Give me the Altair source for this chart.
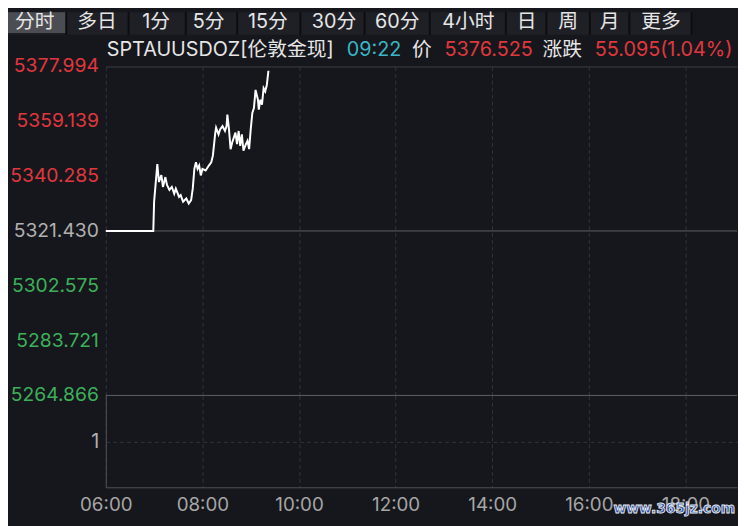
import altair as alt
import pandas as pd

# SPTAUUSDOZ 伦敦金现, intraday (分时) line
times = ["06:00", "06:59", "07:00", "07:04", "07:06", "07:09", "07:11", "07:14", "07:16",
         "07:19", "07:22", "07:25", "07:27", "07:31", "07:33", "07:36", "07:40", "07:43",
         "07:46", "07:48", "07:50", "07:52", "07:54", "07:56", "07:58", "08:00", "08:04",
         "08:08", "08:11", "08:13", "08:16", "08:17", "08:20", "08:22", "08:25", "08:28",
         "08:30", "08:31", "08:33", "08:35", "08:37", "08:39", "08:41", "08:43", "08:45",
         "08:47", "08:49", "08:51", "08:54", "08:56", "08:58", "09:00", "09:02", "09:04",
         "09:06", "09:09", "09:10", "09:12", "09:14", "09:16", "09:18", "09:20", "09:22"]
prices = [5321.43, 5321.43, 5331.45, 5344.46, 5338.25, 5340.62, 5336.55, 5339.95, 5337.23,
          5335.53, 5336.55, 5334.27, 5335.97, 5333.15, 5333.73, 5331.45, 5332.57, 5330.87,
          5332.03, 5335.97, 5342.76, 5345.04, 5342.76, 5343.92, 5340.52, 5342.76, 5342.22,
          5343.92, 5345.04, 5347.31, 5355.23, 5356.93, 5354.65, 5356.35, 5357.50, 5355.81,
          5357.50, 5361.45, 5356.35, 5349.56, 5351.83, 5353.53, 5355.23, 5351.26, 5355.81,
          5350.71, 5354.65, 5349.01, 5351.26, 5352.41, 5349.56, 5356.35, 5362.03, 5363.72,
          5369.94, 5366.54, 5363.14, 5366.54, 5364.85, 5370.52, 5369.40, 5371.64, 5376.525]

symbol = "SPTAUUSDOZ"
name = "伦敦金现"
prev_close = 5321.430
last_time = "09:22"
last_price = 5376.525
change = 55.095
change_pct = 1.04

y_ticks = [5377.994, 5359.139, 5340.285, 5321.430, 5302.575, 5283.721, 5264.866]
vol_ticks = [1]
x_hours = [6, 8, 10, 12, 14, 16, 18]
tabs = ["分时", "多日", "1分", "5分", "15分", "30分", "60分", "4小时", "日", "周", "月", "更多"]

# layout, in pixels of the 746x526 screenshot (page starts at 8,8)
OX, OY = 107, 63            # top-left corner of the plot area
PLOT_W, PRICE_H, VOL_H = 639, 333, 93
tab_centers = [35, 98, 158, 211, 271, 338, 402, 474, 533, 575, 617, 669]
tab_dividers = [67, 130, 188, 240, 304, 369, 435, 512, 553, 597, 637, 700]
header_left = [108, 351, 417, 450, 549, 602]

BG = "#16171c"
TAB_BG = "#1f2026"
TAB_SEL = "#4c4d53"
TAB_LINE = "#0d0d10"
TEXT = "#e6e6e6"
RED = "#e0373e"
GREEN = "#3db05a"
GRAY = "#b0b0b0"
CYAN = "#3bb6c6"
GRID = "#32343c"
BORDER = "#50525a"
FONT = "Inter, Noto Sans CJK SC"

day = "2024-01-01 "
price_df = pd.DataFrame({"time": pd.to_datetime([day + t for t in times]), "price": prices})


def dt(h, m=0):
    return alt.DateTime(year=2024, month=1, date=1, hours=h, minutes=m)


x_scale = alt.Scale(domain=[dt(6), dt(19, 4)])
x_vals = [dt(h) for h in x_hours]
y_scale = alt.Scale(domain=[y_ticks[-1], y_ticks[0]], nice=False, zero=False)

one = pd.DataFrame({"k": [0]})

# tab bar (its top-left corner also fixes where the chart sits on the page)
tab_bar = alt.Chart(one).mark_rect(color=TAB_BG).encode(
    x=alt.value(8 - OX), x2=alt.value(700 - OX), y=alt.value(8 - OY), y2=alt.value(31 - OY))
tab_sel = alt.Chart(one).mark_rect(color=TAB_SEL).encode(
    x=alt.value(8 - OX), x2=alt.value(67 - OX), y=alt.value(8 - OY), y2=alt.value(29 - OY))
tab_df = pd.DataFrame({"tab": tabs,
                       "cx": [c - OX for c in tab_centers],
                       "div": [d - OX for d in tab_dividers]})
tab_lines = alt.Chart(tab_df).mark_rule(color=TAB_LINE, strokeWidth=2).encode(
    x=alt.X("div:Q", scale=None), y=alt.value(8 - OY), y2=alt.value(31 - OY))
tab_text = alt.Chart(tab_df).mark_text(font=FONT, fontSize=20, color=TEXT, baseline="middle").encode(
    x=alt.X("cx:Q", scale=None), y=alt.value(18 - OY), text="tab:N")

# quote header
head_df = pd.DataFrame({
    "seg": [f"{symbol}[{name}]", last_time, "价", f"{last_price:.3f}", "涨跌",
            f"{change:.3f}({change_pct:.2f}%)"],
    "px": [p - OX for p in header_left],
    "col": [TEXT, CYAN, TEXT, RED, TEXT, RED],
})
header = alt.Chart(head_df).mark_text(font=FONT, fontSize=20, align="left", baseline="middle").encode(
    x=alt.X("px:Q", scale=None), y=alt.value(46 - OY), text="seg:N",
    color=alt.Color("col:N", scale=None))

# price axis labels, coloured against the previous close
ylab_df = pd.DataFrame({"price": y_ticks})
ylab_df["side"] = ["up" if v > prev_close else "down" if v < prev_close else "flat" for v in y_ticks]
ylabels = alt.Chart(ylab_df).mark_text(font=FONT, fontSize=19.5, align="right", baseline="middle").encode(
    x=alt.value(-7),
    y=alt.Y("price:Q", scale=y_scale, axis=None),
    text=alt.Text("price:Q", format=".3f"),
    color=alt.Color("side:N", scale=alt.Scale(domain=["up", "flat", "down"], range=[RED, GRAY, GREEN]),
                    legend=None))

rule_df = pd.DataFrame({"price": [prev_close, y_ticks[-1]]})
rules = alt.Chart(rule_df).mark_rule(color="#5d5f67", strokeWidth=1).encode(
    y=alt.Y("price:Q", scale=y_scale, axis=None))

line = alt.Chart(price_df).mark_line(color="#ffffff", strokeWidth=2).encode(
    x=alt.X("time:T", scale=x_scale,
            axis=alt.Axis(orient="top", values=x_vals, labels=False, ticks=False, domain=True,
                          domainColor="#3c3e46", grid=True, title=None)),
    y=alt.Y("price:Q", scale=y_scale,
            axis=alt.Axis(values=y_ticks, labels=False, ticks=False, domain=True, grid=True, title=None)))

top = alt.layer(tab_bar, tab_sel, tab_lines, tab_text, header, rules, ylabels, line).properties(
    width=PLOT_W, height=PRICE_H)

# volume pane (empty), carries the time axis
vol = alt.Chart(price_df).mark_point(opacity=0).encode(
    x=alt.X("time:T", scale=x_scale,
            axis=alt.Axis(values=x_vals, format="%H:%M", labelFlush=False, ticks=False, domain=True,
                          grid=True, title=None, zindex=0, labelPadding=8, labelColor="#a6a6a6",
                          labelFontSize=19)),
    y=alt.YDatum(0, type="quantitative", scale=alt.Scale(domain=[0, 2], nice=False, zero=False),
                 axis=alt.Axis(values=vol_ticks, ticks=False, grid=True, domain=True, title=None,
                               labelPadding=7, labelFontSize=20)))

# filler below the time axis, down to the bottom of the page
floor = alt.Chart(one).mark_rect(color=BG).encode(
    x=alt.value(0), x2=alt.value(PLOT_W), y=alt.value(VOL_H + 30), y2=alt.value(526 - OY - PRICE_H))

stamp = alt.Chart(one).mark_text(text="www.365jz.com", font="DejaVu Sans", fontSize=14, fontWeight="bold",
                                 color="#34529c", stroke="#e3e9f4", strokeWidth=0.9,
                                 align="left", baseline="middle").encode(
    x=alt.value(621 - OX), y=alt.value(511 - OY - PRICE_H))

bottom = alt.layer(floor, vol, stamp).properties(width=PLOT_W, height=VOL_H)

chart = alt.vconcat(top, bottom, spacing=0, bounds="flush").properties(
    background=BG,
    autosize=alt.AutoSizeParams(type="pad"),
    padding=0,
).configure_view(
    strokeWidth=0
).configure_axis(
    gridColor=GRID, gridDash=[4, 3], domainColor=BORDER,
    labelFont=FONT, labelFontSize=18, labelColor=GRAY
)

chart.save("out.html", embed_options={"renderer": "svg", "actions": False})
